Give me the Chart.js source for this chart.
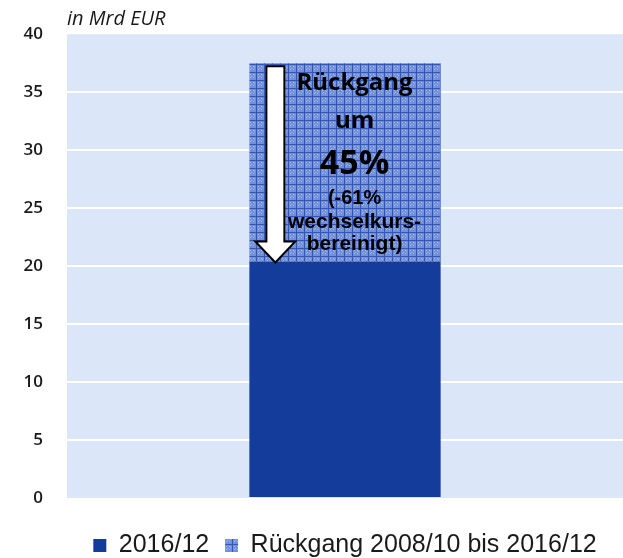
<!DOCTYPE html>
<html>
<head>
<meta charset="utf-8">
<script src="https://cdn.jsdelivr.net/npm/chart.js@4.4.1/dist/chart.umd.min.js"></script>
<style>
    html, body { margin: 0; padding: 0; background: #ffffff; }
    #wrap { width: 623px; height: 558px; }
</style>
</head>
<body>
<div id="wrap"><canvas id="grafico"></canvas></div>
<script>
// Werte in Mrd EUR
const kategorien = [""];
const stand2016 = [20.4];
const rueckgang = [17.1];
const serienNamen = ["2016/12", "Rückgang 2008/10 bis 2016/12"];
const yTicks = [0, 5, 10, 15, 20, 25, 30, 35, 40];
const einheit = "in Mrd EUR";
const bemerkung = ["Rückgang", "um", "45%", "(-61%", "wechselkurs-", "bereinigt)"];

function musterFuellung() {
    const c = document.createElement("canvas");
    c.width = 8;
    c.height = 8;
    const g = c.getContext("2d");
    g.fillStyle = "#7190d8";
    g.fillRect(0, 0, 8, 8);
    g.fillStyle = "#a3b7e8";
    [[2, 2], [5, 2], [2, 5], [5, 5], [3, 4], [6, 3]].forEach(p => g.fillRect(p[0], p[1], 1, 1));
    g.fillStyle = "#3457b5";
    g.fillRect(0, 0, 8, 1);
    g.fillRect(0, 0, 1, 8);
    return g.createPattern(c, "repeat");
}

const hintergrund = {
    id: "hintergrund",
    beforeDraw(chart) {
        const { ctx, chartArea: a } = chart;
        ctx.save();
        ctx.fillStyle = "#dce6f9";
        ctx.fillRect(a.left, a.top, a.right - a.left, a.bottom - a.top);
        ctx.restore();
    }
};

const beschriftung = {
    id: "beschriftung",
    afterDraw(chart) {
        const { ctx, chartArea: a } = chart;
        ctx.save();
        ctx.fillStyle = "#1a1a1a";
        ctx.font = "italic 20px 'Open Sans'";
        ctx.textAlign = "left";
        ctx.textBaseline = "alphabetic";
        ctx.fillText(einheit, a.left, 25);

        const bar = chart.getDatasetMeta(1).data[0];
        const links = bar.x - bar.width / 2;
        const w = bar.width;
        const oben = bar.y;
        const unten = bar.base;

        // Pfeil
        const sL = links + w * 0.089, sR = links + w * 0.183;
        const kL = links + w * 0.031, kR = links + w * 0.24, kM = links + w * 0.136;
        const kopf = unten - 20;
        ctx.beginPath();
        ctx.moveTo(sL, oben + 3);
        ctx.lineTo(sR, oben + 3);
        ctx.lineTo(sR, kopf);
        ctx.lineTo(kR, kopf);
        ctx.lineTo(kM, unten + 1);
        ctx.lineTo(kL, kopf);
        ctx.lineTo(sL, kopf);
        ctx.closePath();
        ctx.fillStyle = "#ffffff";
        ctx.fill();
        ctx.lineWidth = 2;
        ctx.strokeStyle = "#000000";
        ctx.stroke();

        // Text im Balken
        const mitte = bar.x + w * 0.05;
        const zeilen = [
            { t: bemerkung[0], f: "bold 24px 'Open Sans'", dy: 27 },
            { t: bemerkung[1], f: "bold 24px 'Open Sans'", dy: 65 },
            { t: bemerkung[2], f: "bold 34px 'Open Sans'", dy: 111 },
            { t: bemerkung[3], f: "bold 20px 'Liberation Sans'", dy: 141 },
            { t: bemerkung[4], f: "bold 21px 'Liberation Sans'", dy: 165 },
            { t: bemerkung[5], f: "bold 21px 'Liberation Sans'", dy: 187 }
        ];
        ctx.fillStyle = "#000000";
        ctx.textAlign = "center";
        zeilen.forEach(z => {
            ctx.font = z.f;
            ctx.fillText(z.t, mitte, oben + z.dy);
        });
        ctx.restore();
    }
};

new Chart(document.getElementById("grafico"), {
    type: "bar",
    data: {
        labels: kategorien,
        datasets: [
            {
                label: serienNamen[0],
                data: stand2016,
                backgroundColor: "#133c9b",
                borderWidth: 0,
                categoryPercentage: 0.344,
                barPercentage: 1
            },
            {
                label: serienNamen[1],
                data: rueckgang,
                backgroundColor: musterFuellung(),
                borderWidth: 0,
                categoryPercentage: 0.344,
                barPercentage: 1
            }
        ]
    },
    options: {
        responsive: true,
        maintainAspectRatio: false,
        animation: false,
        layout: { padding: { top: 33, right: 0, bottom: -10, left: 0 } },
        plugins: {
            legend: {
                position: "bottom",
                fullSize: false,
                labels: {
                    boxWidth: 13,
                    boxHeight: 13,
                    padding: 2,
                    color: "#1a1a1a",
                    font: { family: "'Liberation Sans'", size: 25, lineHeight: 1 },
                    generateLabels(chart) {
                        const items = Chart.defaults.plugins.legend.labels.generateLabels(chart);
                        items[0].text = items[0].text + "  ";
                        return items;
                    }
                }
            },
            tooltip: { enabled: false },
            title: { display: false }
        },
        scales: {
            x: {
                stacked: true,
                grid: { display: false },
                border: { display: false },
                ticks: { display: false },
                afterFit(scale) { scale.height = 33; }
            },
            y: {
                stacked: true,
                min: 0,
                max: 40,
                afterBuildTicks(scale) {
                    scale.ticks = yTicks.map(v => ({ value: v }));
                },
                afterFit(scale) { scale.width = 67; },
                border: { display: false },
                grid: {
                    drawTicks: false,
                    lineWidth: 2,
                    color: ctx => (ctx.tick.value === 0 || ctx.tick.value === 40) ? "rgba(0,0,0,0)" : "#ffffff"
                },
                ticks: {
                    padding: 24,
                    color: "#1a1a1a",
                    font: { family: "'Open Sans'", size: 17, weight: "600" }
                }
            }
        }
    },
    plugins: [hintergrund, beschriftung]
});
</script>
</body>
</html>
